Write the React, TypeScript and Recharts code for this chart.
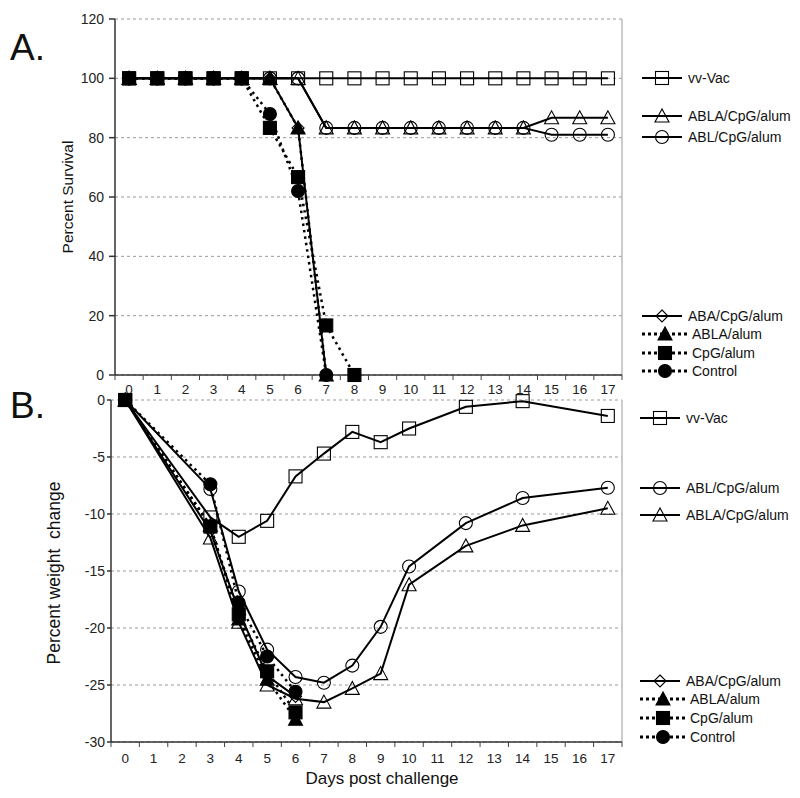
import { LineChart, Line, XAxis, YAxis, CartesianGrid, ReferenceLine } from 'recharts';

// Panel A: survival, days 0-17
const survDays = [0, 1, 2, 3, 4, 5, 6, 7, 8, 9, 10, 11, 12, 13, 14, 15, 16, 17];
const survVvVac = [100, 100, 100, 100, 100, 100, 100, 100, 100, 100, 100, 100, 100, 100, 100, 100, 100, 100];
const survAblaCpg = [100, 100, 100, 100, 100, 100, 100, 83.3, 83.3, 83.3, 83.3, 83.3, 83.3, 83.3, 83.3, 86.7, 86.7, 86.7];
const survAblCpg = [100, 100, 100, 100, 100, 100, 100, 83.3, 83.3, 83.3, 83.3, 83.3, 83.3, 83.3, 83.3, 81, 81, 81];
const survAbaCpg = [100, 100, 100, 100, 100, 100, 83.3, 0, null, null, null, null, null, null, null, null, null, null];
const survAblaAlum = [100, 100, 100, 100, 100, 100, 83.3, 0, null, null, null, null, null, null, null, null, null, null];
const survCpgAlum = [100, 100, 100, 100, 100, 83.3, 66.7, 16.7, 0, null, null, null, null, null, null, null, null, null];
const survControl = [100, 100, 100, 100, 100, 88, 62, 0, null, null, null, null, null, null, null, null, null, null];

// Panel B: weight change, measured days only
const wtDays = [0, 3, 4, 5, 6, 7, 8, 9, 10, 12, 14, 17];
const wtVvVac = [0, -10.3, -12.0, -10.6, -6.7, -4.7, -2.8, -3.7, -2.5, -0.6, -0.1, -1.4];
const wtAblCpg = [0, -7.8, -16.8, -21.9, -24.3, -24.8, -23.3, -19.9, -14.6, -10.8, -8.6, -7.7];
const wtAblaCpg = [0, -12.1, -19.5, -25.0, -26.2, -26.5, -25.3, -24.0, -16.2, -12.8, -11.0, -9.5];
const wtAbaCpg = [0, -11.5, -18.5, -24.2, -26.0];
const wtAblaAlum = [0, -11.0, -19.2, -24.5, -28.0];
const wtCpgAlum = [0, -11.1, -18.8, -23.8, -27.4];
const wtControl = [0, -7.4, -17.8, -22.5, -25.6];

const dayTicks = survDays;
const survTicks = [0, 20, 40, 60, 80, 100, 120];
const wtTicks = [-30, -25, -20, -15, -10, -5, 0];

const survData = survDays.map((d, i) => ({
  day: d,
  vvVac: survVvVac[i],
  ablaCpg: survAblaCpg[i],
  ablCpg: survAblCpg[i],
  abaCpg: survAbaCpg[i],
  ablaAlum: survAblaAlum[i],
  cpgAlum: survCpgAlum[i],
  control: survControl[i],
}));

const wtData = wtDays.map((d, i) => ({
  day: d,
  vvVac: wtVvVac[i],
  ablaCpg: wtAblaCpg[i],
  ablCpg: wtAblCpg[i],
  abaCpg: wtAbaCpg[i] ?? null,
  ablaAlum: wtAblaAlum[i] ?? null,
  cpgAlum: wtCpgAlum[i] ?? null,
  control: wtControl[i] ?? null,
}));

// open markers first, filled ones on top
const series = [
  { key: 'vvVac', name: 'vv-Vac', shape: 'square', filled: false, dotted: false },
  { key: 'ablaCpg', name: 'ABLA/CpG/alum', shape: 'triangle', filled: false, dotted: false },
  { key: 'ablCpg', name: 'ABL/CpG/alum', shape: 'circle', filled: false, dotted: false },
  { key: 'abaCpg', name: 'ABA/CpG/alum', shape: 'diamond', filled: false, dotted: false },
  { key: 'ablaAlum', name: 'ABLA/alum', shape: 'triangle', filled: true, dotted: true },
  { key: 'control', name: 'Control', shape: 'circle', filled: true, dotted: true },
  { key: 'cpgAlum', name: 'CpG/alum', shape: 'square', filled: true, dotted: true },
];

const FONT = '"Liberation Sans", Arial, Helvetica, sans-serif';

const Marker = ({ cx, cy, shape, filled }: any) => {
  const fill = filled ? '#000' : 'none';
  const sw = 1.1;
  if (shape === 'square') {
    return <rect x={cx - 6.5} y={cy - 6.5} width={13} height={13} fill={fill} stroke="#000" strokeWidth={sw} />;
  }
  if (shape === 'circle') {
    return <circle cx={cx} cy={cy} r={6.5} fill={fill} stroke="#000" strokeWidth={sw} />;
  }
  if (shape === 'triangle') {
    return (
      <polygon
        points={`${cx},${cy - 7} ${cx - 7},${cy + 6} ${cx + 7},${cy + 6}`}
        fill={fill}
        stroke="#000"
        strokeWidth={sw}
      />
    );
  }
  return (
    <polygon
      points={`${cx},${cy - 6} ${cx + 6},${cy} ${cx},${cy + 6} ${cx - 6},${cy}`}
      fill={fill}
      stroke="#000"
      strokeWidth={sw}
    />
  );
};

const renderDot = (shape: string, filled: boolean) => (props: any) => {
  const { cx, cy, value, index } = props;
  const k = props.key ?? `dot-${index}`;
  if (value == null || cx == null || cy == null) return <g key={k} />;
  return <Marker key={k} cx={cx} cy={cy} shape={shape} filled={filled} />;
};

// tick labels sit on the categories, tick marks between them
const makeTick = (step: number, gap: number) => (props: any) => {
  const { x, y, payload } = props;
  const axisY = y - gap;
  return (
    <g>
      <line x1={x - step / 2} x2={x - step / 2} y1={axisY} y2={axisY + 5} stroke="#444" />
      {payload.value === 17 && (
        <line x1={x + step / 2} x2={x + step / 2} y1={axisY} y2={axisY + 5} stroke="#444" />
      )}
      <text x={x} y={y} dy="0.71em" textAnchor="middle" fontSize={13.5} fill="#222" fontFamily={FONT}>
        {payload.value}
      </text>
    </g>
  );
};

const renderLines = () =>
  series.map((s) => (
    <Line
      key={s.key}
      type="linear"
      dataKey={s.key}
      name={s.name}
      stroke="#000"
      strokeWidth={s.dotted ? 2.5 : 2}
      strokeDasharray={s.dotted ? '2.5 4' : undefined}
      dot={renderDot(s.shape, s.filled)}
      activeDot={false}
      isAnimationActive={false}
    />
  ));

const LegendItem = ({ x, y, s }: any) => (
  <g>
    <line
      x1={x}
      x2={s.dotted ? x + 46 : x + 40}
      y1={y}
      y2={y}
      stroke="#000"
      strokeWidth={s.dotted ? 3 : 2}
      strokeDasharray={s.dotted ? '3 3' : undefined}
    />
    <Marker cx={s.dotted ? x + 23 : x + 20} cy={y} shape={s.shape} filled={s.filled} />
    <text x={s.dotted ? x + 50 : x + 46} y={y} dy="0.35em" fontSize={14} fill="#111" fontFamily={FONT}>
      {s.name}
    </text>
  </g>
);

const byKey = (k: string) => series.find((s) => s.key === k);

const legendA = [
  { k: 'vvVac', y: 78 },
  { k: 'ablaCpg', y: 116 },
  { k: 'ablCpg', y: 137 },
  { k: 'abaCpg', y: 316 },
  { k: 'ablaAlum', y: 334 },
  { k: 'cpgAlum', y: 353 },
  { k: 'control', y: 371 },
];
const legendB = [
  { k: 'vvVac', y: 418 },
  { k: 'ablCpg', y: 488 },
  { k: 'ablaCpg', y: 515 },
  { k: 'abaCpg', y: 681 },
  { k: 'ablaAlum', y: 699 },
  { k: 'cpgAlum', y: 718 },
  { k: 'control', y: 737 },
];

export default function App() {
  return (
    <div style={{ position: 'absolute', left: 0, top: 0, width: 800, height: 798, background: '#fff', fontFamily: FONT }}>
      <div style={{ position: 'absolute', left: 0, top: 0 }}>
        <LineChart width={800} height={400} data={survData} margin={{ top: 19, right: 178, bottom: 0, left: 0 }}>
          <CartesianGrid vertical={false} stroke="#999" strokeDasharray="3 3" />
          <XAxis
            dataKey="day"
            type="number"
            domain={[-0.5, 17.5]}
            ticks={dayTicks}
            height={25}
            stroke="#333"
            strokeWidth={1.5}
            tickLine={false}
            tickSize={6}
            tickMargin={3}
            tick={makeTick(507 / 18, 9)}
            interval={0}
          />
          <YAxis
            type="number"
            domain={[0, 120]}
            ticks={survTicks}
            width={115}
            stroke="#333"
            strokeWidth={1.5}
            tickSize={6}
            tickMargin={5}
            tick={{ fontSize: 14, fill: '#222', fontFamily: FONT }}
            interval={0}
          />
          <ReferenceLine x={17.5} stroke="#bbb" strokeWidth={1.5} />
          {renderLines()}
        </LineChart>
      </div>
      <div style={{ position: 'absolute', left: 0, top: 380 }}>
        <LineChart width={800} height={410} data={wtData} margin={{ top: 20, right: 178, bottom: 0, left: 0 }}>
          <CartesianGrid vertical={false} stroke="#999" strokeDasharray="3 3" />
          <XAxis
            dataKey="day"
            type="number"
            domain={[-0.5, 17.5]}
            ticks={dayTicks}
            height={48}
            stroke="#333"
            strokeWidth={1.5}
            tickLine={false}
            tickSize={6}
            tickMargin={5}
            tick={makeTick(511 / 18, 11)}
            interval={0}
          />
          <YAxis
            type="number"
            domain={[-30, 0]}
            ticks={wtTicks}
            width={111}
            stroke="#333"
            strokeWidth={1.5}
            tickSize={4}
            tickMargin={2}
            tick={{ fontSize: 14, fill: '#222', fontFamily: FONT }}
            interval={0}
          />
          <ReferenceLine x={17.5} stroke="#bbb" strokeWidth={1.5} />
          {renderLines()}
        </LineChart>
      </div>
      <svg
        width={800}
        height={798}
        style={{ position: 'absolute', left: 0, top: 0, pointerEvents: 'none' }}
      >
        <text x={10} y={60} fontSize={37} fill="#111" fontFamily={FONT}>A.</text>
        <text x={10} y={418} fontSize={37} fill="#111" fontFamily={FONT}>B.</text>
        <text
          x={73}
          y={197}
          transform="rotate(-90 73 197)"
          textAnchor="middle"
          fontSize={15.5}
          fill="#111"
          fontFamily={FONT}
        >
          Percent Survival
        </text>
        <text
          x={60}
          y={573}
          transform="rotate(-90 60 573)"
          textAnchor="middle"
          fontSize={17.5}
          fill="#111"
          fontFamily={FONT}
          style={{ whiteSpace: 'pre' }}
        >
          {'Percent weight  change'}
        </text>
        <text x={382} y={784} textAnchor="middle" fontSize={17} fill="#111" fontFamily={FONT}>
          Days post challenge
        </text>
        {legendA.map((l) => (
          <LegendItem key={`a-${l.k}`} x={642} y={l.y} s={byKey(l.k)} />
        ))}
        {legendB.map((l) => (
          <LegendItem key={`b-${l.k}`} x={640} y={l.y} s={byKey(l.k)} />
        ))}
      </svg>
    </div>
  );
}
